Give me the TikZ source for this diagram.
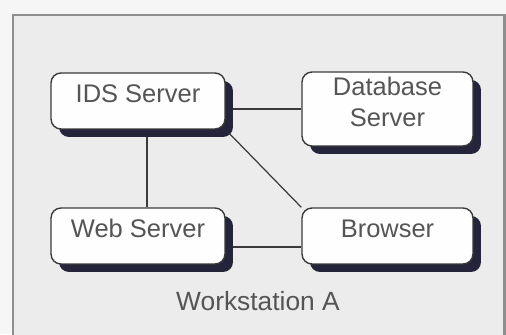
\documentclass[tikz,border=0pt]{standalone}
\usepackage{fontspec}
\setmainfont{Liberation Sans}
\usetikzlibrary{shadows,backgrounds}

\definecolor{bgcol}{HTML}{ECECEC}
\definecolor{framecol}{HTML}{8E8E8E}
\definecolor{shadowcol}{HTML}{24243A}
\definecolor{textcol}{HTML}{555555}
\definecolor{edgecol}{HTML}{3A3A3A}

\begin{document}
\begin{tikzpicture}[x=0.02cm, y=-0.02cm,
    box/.style={draw=edgecol, line width=0.8pt, rounded corners=0.2cm,
        fill=white!95!bgcol, text=textcol, font=\fontsize{14.5}{18}\selectfont,
        minimum width=3.48cm, minimum height=1.12cm, inner sep=0pt,
        text height=10pt, text depth=8.6pt,
        drop shadow={shadow xshift=0.16cm, shadow yshift=-0.16cm, fill=shadowcol, opacity=1}},
    link/.style={draw=edgecol, line width=0.7pt}]

    \useasboundingbox (0,0) rectangle (506,334);

    % 四个服务器框
    \node[box] (ids) at (138,101) {IDS Server};
    \node[box, align=center, minimum width=3.42cm, minimum height=1.48cm,
          text height=28pt, text depth=7.6pt] (db) at (387.5,109) {Database\\Server};
    \node[box] (web) at (138,236) {Web Server};
    \node[box, minimum width=3.42cm] (brw) at (387.5,236) {Browser};

    % 标签
    \node[text=textcol, font=\fontsize{15}{18}\selectfont] (ws) at (258,301) {Workstation A};

    \begin{scope}[on background layer]
        % 背景和边框
        \clip (0,0) rectangle (506,334);
        \fill[bgcol!50!white] (0,0) rectangle (506,334);
        \filldraw[fill=bgcol, draw=framecol, line width=1.7pt] (13,15) rectangle (504,345);

        % 连线
        \draw[link] (db.west) -- (db.west -| ids.east);
        \draw[link] ([xshift=0.18cm]ids.south) -- ([xshift=0.18cm]web.north);
        \draw[link] (ids.south east) -- (brw.north west);
        \draw[link] ([yshift=-0.22cm]web.east) -- ([yshift=-0.22cm]brw.west);
    \end{scope}

\end{tikzpicture}
\end{document}
